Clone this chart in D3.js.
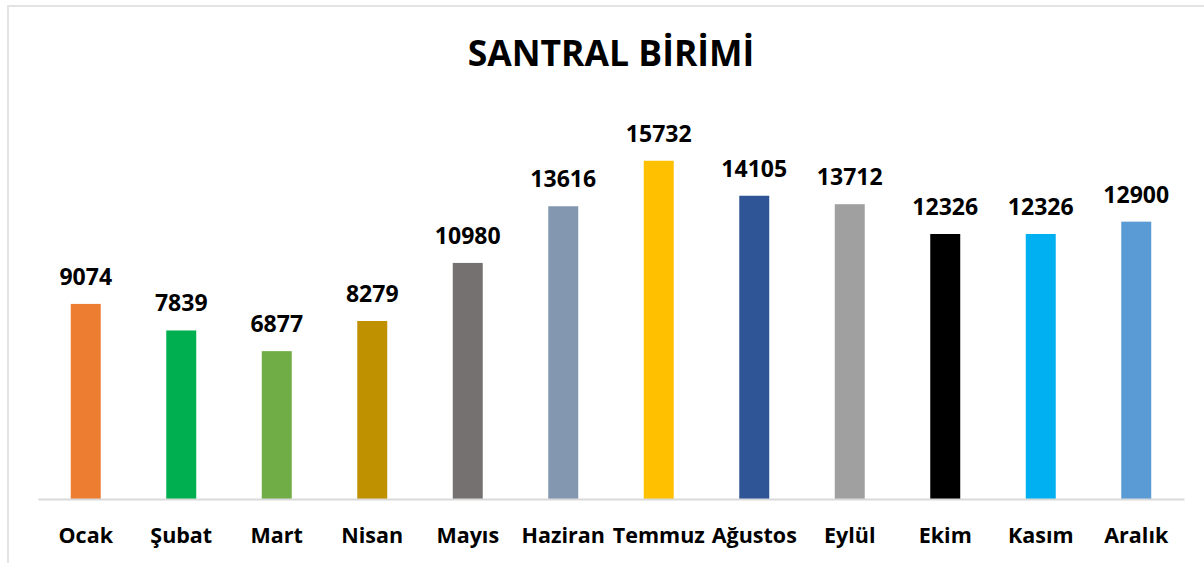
<!DOCTYPE html>
<html>
<head>
<meta charset="utf-8">
<script src="https://cdn.jsdelivr.net/npm/d3@7"></script>
<style>
	body { margin: 0; background: #fff; }
	svg text { font-family: "Open Sans", sans-serif; font-weight: bold; fill: #000; }
</style>
</head>
<body>
<div id="chart"></div>
<script>
// data
const months = ["Ocak", "Şubat", "Mart", "Nisan", "Mayıs", "Haziran", "Temmuz", "Ağustos", "Eylül", "Ekim", "Kasım", "Aralık"];
const values = [9074, 7839, 6877, 8279, 10980, 13616, 15732, 14105, 13712, 12326, 12326, 12900];
const barColors = ["#ED7D31", "#00B050", "#70AD47", "#BF9000", "#767171", "#8497B0", "#FFC000", "#2F5597", "#A0A0A0", "#000000", "#00B0F0", "#5B9BD5"];
const chartTitle = "SANTRAL BİRİMİ";

const data = months.map((m, i) => ({ month: m, value: values[i], color: barColors[i] }));

//////////////////////////// sizes ///////////////////////////////////
const width = 1204;
const height = 563;
const margin = { top: 112, right: 20, bottom: 64, left: 38 };
const boundedWidth = 1184 - margin.left;
const boundedHeight = 499 - margin.top;

const svg = d3.select("#chart").append("svg")
	.attr("width", width)
	.attr("height", height);

// chart border
svg.append("rect")
	.attr("x", 8)
	.attr("y", 6)
	.attr("width", width)
	.attr("height", height)
	.attr("fill", "none")
	.attr("stroke", "#e3e3e3")
	.attr("stroke-width", 2);

svg.append("text")
	.attr("x", 611)
	.attr("y", 66)
	.attr("text-anchor", "middle")
	.style("font-size", "35.5px")
	.text(chartTitle);

const bounds = svg.append("g")
	.attr("transform", `translate(${margin.left},${margin.top})`);

//////////////////////////// scales ///////////////////////////////////
const xScale = d3.scaleBand()
	.domain(months)
	.range([0, boundedWidth])
	.paddingInner(0.686)
	.paddingOuter(0.343);

const yScale = d3.scaleLinear()
	.domain([0, 18000])
	.range([boundedHeight, 0]);

//////////////////////////// bars /////////////////////////////////////
bounds.selectAll(".bar")
	.data(data)
	.join("rect")
	.attr("class", "bar")
	.attr("x", (d) => xScale(d.month))
	.attr("width", xScale.bandwidth())
	.attr("y", (d) => yScale(d.value))
	.attr("height", (d) => boundedHeight - yScale(d.value))
	.attr("fill", (d) => d.color);

// value labels
bounds.selectAll(".val")
	.data(data)
	.join("text")
	.attr("class", "val")
	.attr("x", (d) => xScale(d.month) + xScale.bandwidth() / 2)
	.attr("y", (d) => yScale(d.value) - 19)
	.attr("text-anchor", "middle")
	.style("font-size", "23px")
	.text((d) => d.value);

//////////////////////////// axis /////////////////////////////////////
const xAxis = bounds.append("g")
	.attr("transform", `translate(0,${boundedHeight})`)
	.call(d3.axisBottom(xScale).tickSize(0).tickPadding(0));

xAxis.select(".domain")
	.attr("stroke", "#d9d9d9")
	.attr("stroke-width", 2);

xAxis.selectAll(".tick text")
	.attr("y", 44)
	.attr("dy", null)
	.style("font-size", "21.5px")
	.style("font-family", "'Open Sans', sans-serif")
	.style("font-weight", "bold")
	.attr("fill", "#000");
</script>
</body>
</html>
